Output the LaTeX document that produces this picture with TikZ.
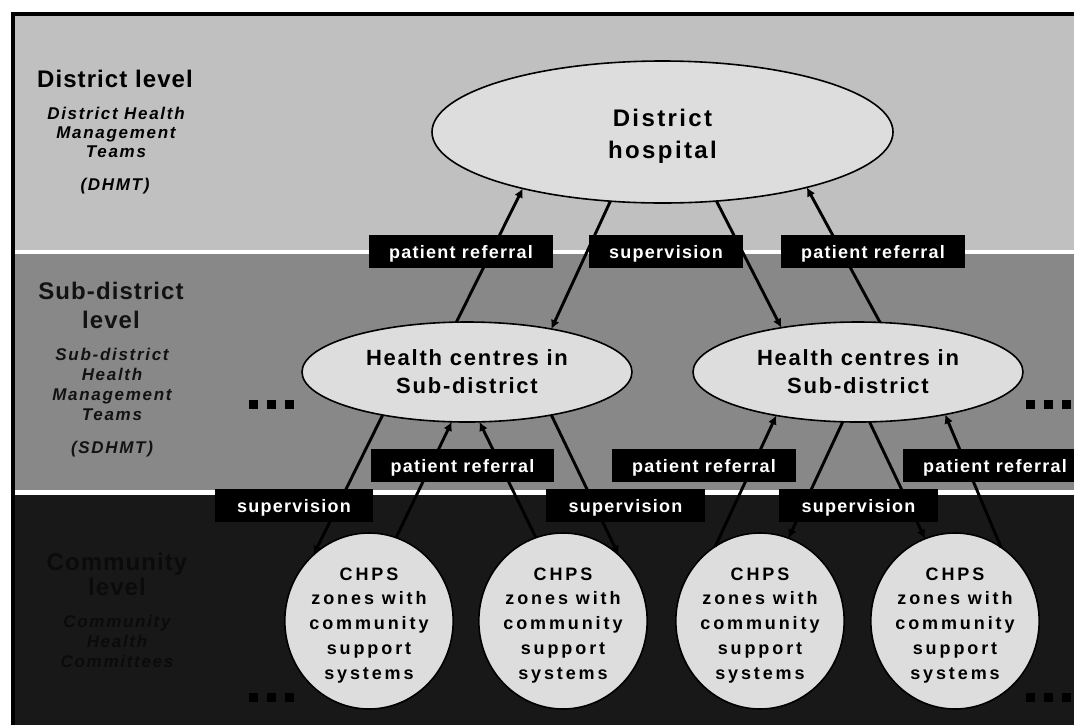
\documentclass[tikz,border=0pt]{standalone}
\usepackage{fontspec}
\setmainfont{Liberation Sans}
\newfontfamily\tagfont{Liberation Sans}[LetterSpace=7]
\newfontfamily\chpsfont{Liberation Sans}[LetterSpace=16]
\newfontfamily\hcfont{Liberation Sans}[LetterSpace=8]
\newfontfamily\dhfont{Liberation Sans}[LetterSpace=10]
\newfontfamily\headfont{Liberation Sans}[LetterSpace=4.5]
\newfontfamily\teamfont{Liberation Sans}[LetterSpace=10]
\usetikzlibrary{shapes.geometric,arrows.meta}

\definecolor{bandtop}{HTML}{C0C0C0}
\definecolor{bandmid}{HTML}{888888}
\definecolor{bandlow}{HTML}{181818}
\definecolor{bubble}{HTML}{DDDDDD}
\definecolor{dimtext}{HTML}{0B0B0B}

\tikzset{
  hub/.style={ellipse, draw=black, line width=1.6pt, fill=bubble,
    inner sep=0pt, outer sep=0pt, align=center},
  tag/.style={fill=black, text=white, inner sep=0pt, minimum height=33pt,
    text height=13.6pt, text depth=0pt,
    font=\tagfont\bfseries\fontsize{18}{20}\selectfont},
  flow/.style={line width=2.9pt, draw=black,
    -{Latex[length=9pt,width=9pt]}},
  % multi-line blocks sit on the baseline of their last line
  head/.style={anchor=base, align=center, inner sep=0pt},
  team/.style={anchor=base, align=center, inner sep=0pt},
}

\begin{document}
\begin{tikzpicture}[x=1pt,y=-1pt]
\useasboundingbox (0,0) rectangle (1074,724);
\clip (0,0) rectangle (1074,724);

% frame and the three level bands
\fill[white] (0,0) rectangle (1074,724);
\fill[black] (11,12) rectangle (1080,730);
\fill[bandtop] (15,16) rectangle (1080,250);
\fill[white] (15,250) rectangle (1080,254);
\fill[bandmid] (15,254) rectangle (1080,490);
\fill[white] (15,490) rectangle (1080,495);
\fill[bandlow] (15,495) rectangle (1080,730);

% level headings
\node[head, font=\headfont\bfseries\fontsize{24}{29}\selectfont] (dlev) at (115,87) {District level};
\node[team, font=\teamfont\bfseries\itshape\fontsize{17}{19}\selectfont] (dteam) at (116,157) {District Health\\Management\\Teams};
\node[team, font=\teamfont\bfseries\itshape\fontsize{17}{19}\selectfont] (dabbr) at (115,190) {(DHMT)};

\node[head, text=black!93, font=\headfont\bfseries\fontsize{24}{29}\selectfont] (slev) at (111,328) {Sub-district\\level};
\node[team, text=black!93, font=\teamfont\bfseries\itshape\fontsize{17}{20}\selectfont] (steam) at (112,420) {Sub-district\\Health\\Management\\Teams};
\node[team, text=black!93, font=\teamfont\bfseries\itshape\fontsize{17}{20}\selectfont] (sabbr) at (112,453) {(SDHMT)};

\node[head, text=dimtext, font=\headfont\bfseries\fontsize{24}{25}\selectfont] (clev) at (117,595) {Community\\level};
\node[team, text=dimtext, font=\teamfont\bfseries\itshape\fontsize{17}{20}\selectfont] (cteam) at (117,667) {Community\\Health\\Committees};

% continuation marks
\foreach \px in {249,267,285,1026,1044,1062}{
  \fill[black] (\px,400) rectangle ++(9,9);
  \fill[black] (\px,693) rectangle ++(9,9);
}

% facilities
\node[hub, minimum width=461pt, minimum height=142pt,
  font=\dhfont\bfseries\fontsize{24}{32}\selectfont] (dh) at (662.5,132)
  {\rule{0pt}{25pt}District\\hospital};
\node[hub, minimum width=330pt, minimum height=100pt,
  font=\hcfont\bfseries\fontsize{22}{28}\selectfont] (hl) at (467,372)
  {Health centres in\\Sub-district};
\node[hub, minimum width=330pt, minimum height=100pt,
  font=\hcfont\bfseries\fontsize{22}{28}\selectfont] (hr) at (858,372)
  {Health centres in\\Sub-district};
\foreach \n/\cx in {c1/369,c2/563,c3/760,c4/955}{
  \node[hub, minimum width=168pt, minimum height=176pt,
    font=\chpsfont\bfseries\fontsize{18}{24.75}\selectfont] (\n) at (\cx,621)
    {\rule{0pt}{21pt}CHPS\\zones with\\community\\support\\systems};
}

% district <-> sub-district
\draw[flow] (hl.102.4) -- (dh.202.4);
\draw[flow] (dh.233.5) -- (hl.27);
\draw[flow] (dh.308) -- (hr.150.1);
\draw[flow] (hr.66.1) -- (dh.339.6);

% sub-district <-> community
\draw[flow] (hl.207.9) -- (c1.130);
\draw[flow] (c1.72.7) -- (hl.253.2);
\draw[flow] (c2.108.6) -- (hl.284.6);
\draw[flow] (hl.333.6) -- (c2.50);
\draw[flow] (c3.121.2) -- (hr.208.3);
\draw[flow] (hr.253.2) -- (c3.71.4);
\draw[flow] (hr.283.5) -- (c4.110);
\draw[flow] (c4.58) -- (hr.334);

% link labels
\node[tag, minimum width=184pt] (t1) at (461,251.5) {patient referral};
\node[tag, minimum width=154pt] (t2) at (666,251.5) {supervision};
\node[tag, minimum width=184pt] (t3) at (873,251.5) {patient referral};
\node[tag, minimum width=158pt] (t4) at (294,505.5) {supervision};
\node[tag, minimum width=183pt] (t5) at (462.5,465.5) {patient referral};
\node[tag, minimum width=159pt] (t6) at (625.5,505.5) {supervision};
\node[tag, minimum width=184pt] (t7) at (704,465.5) {patient referral};
\node[tag, minimum width=159pt] (t8) at (858.5,505.5) {supervision};
\node[tag, minimum width=184pt] (t9) at (995,465.5) {patient referral};
\end{tikzpicture}
\end{document}
